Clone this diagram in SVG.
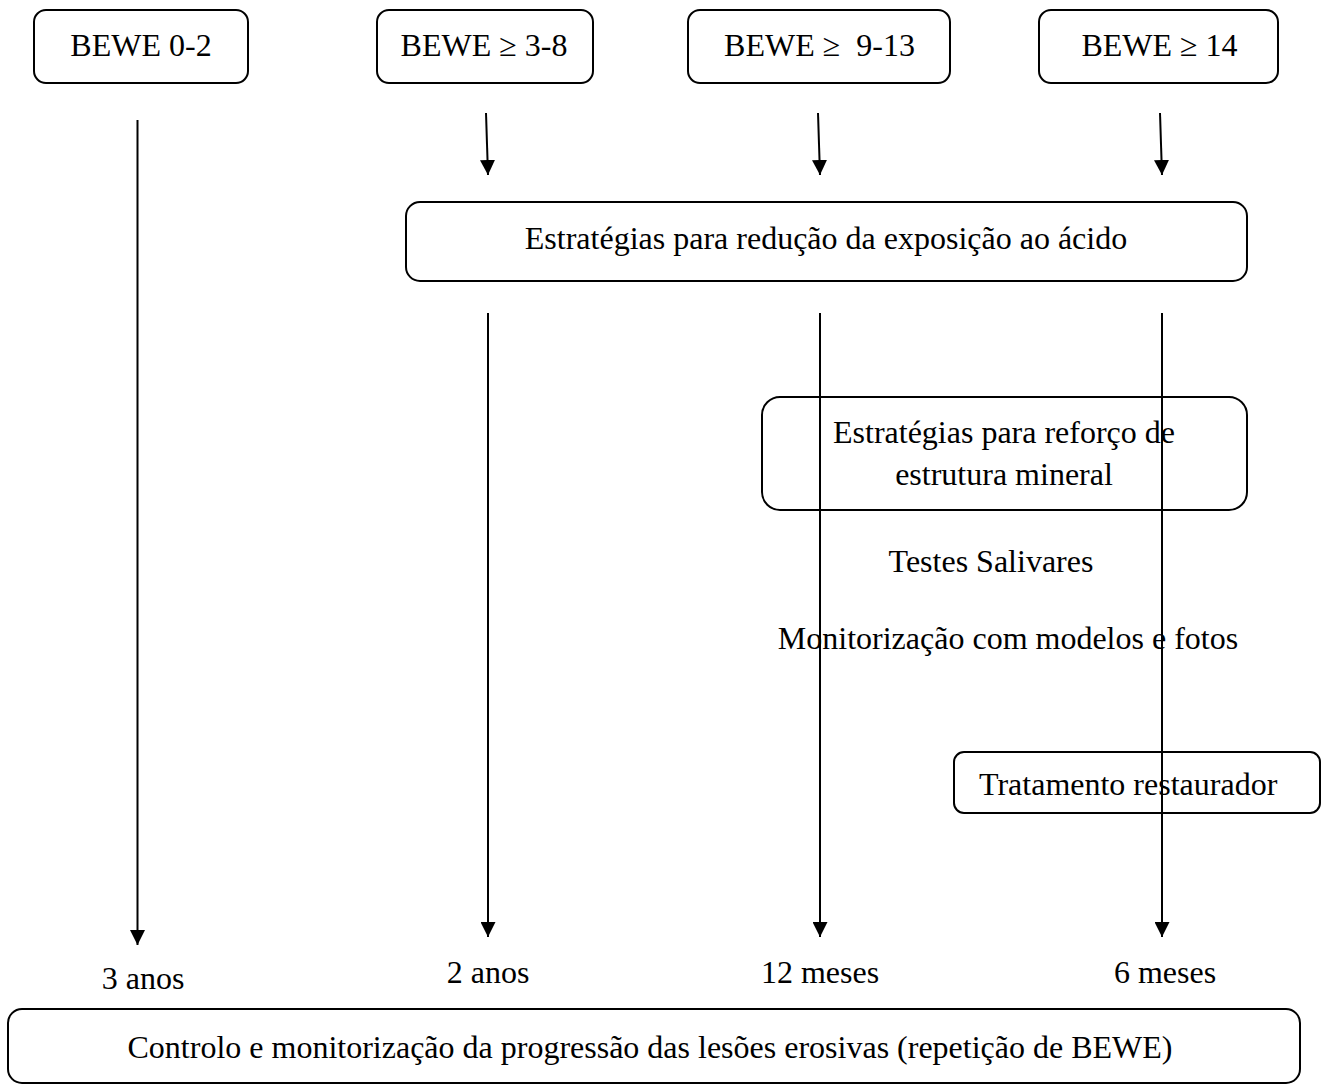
<svg xmlns="http://www.w3.org/2000/svg" width="1322" height="1086" viewBox="0 0 1322 1086">
<style>
.box{fill:none;stroke:#000;stroke-width:2}
.t{font-family:"Liberation Serif","Times New Roman",serif;font-size:32px;fill:#000}
.c{text-anchor:middle}
.ln{stroke:#000;stroke-width:2;fill:none}
</style>
<defs>
<marker id="ah" viewBox="0 0 10 10" refX="10" refY="5" markerWidth="15" markerHeight="15" markerUnits="userSpaceOnUse" orient="auto">
<path d="M0,0 L10,5 L0,10 Z" fill="#000"/>
</marker>
</defs>
<rect width="1322" height="1086" fill="#fff"/>
<g id="connectors">
<path class="ln" d="M137.5,120 L137.5,945" marker-end="url(#ah)"/>
<path class="ln" d="M486,113 L488,175" marker-end="url(#ah)"/>
<path class="ln" d="M818,113 L820,175" marker-end="url(#ah)"/>
<path class="ln" d="M1160,113 L1162,175" marker-end="url(#ah)"/>
<path class="ln" d="M488,313 L488,937" marker-end="url(#ah)"/>
<path class="ln" d="M820,313 L820,937" marker-end="url(#ah)"/>
<path class="ln" d="M1162,313 L1162,937" marker-end="url(#ah)"/>
</g>
<g id="bewe02"><rect class="box" x="34" y="10" width="214" height="73" rx="12"/><text class="t c" x="141" y="56">BEWE 0-2</text></g>
<g id="bewe38"><rect class="box" x="377" y="10" width="216" height="73" rx="12"/><text class="t c" x="484" y="56">BEWE ≥ 3-8</text></g>
<g id="bewe913"><rect class="box" x="688" y="10" width="262" height="73" rx="12"/><text class="t c" x="819.5" y="56" xml:space="preserve">BEWE ≥  9-13</text></g>
<g id="bewe14"><rect class="box" x="1039" y="10" width="239" height="73" rx="12"/><text class="t c" x="1159.5" y="56">BEWE ≥ 14</text></g>
<g id="reducao"><rect class="box" x="406" y="202" width="841" height="79" rx="14"/><text class="t c" x="826" y="249">Estratégias para redução da exposição ao ácido</text></g>
<g id="reforco"><rect class="box" x="762" y="397" width="485" height="113" rx="18"/><text class="t c" x="1004" y="443">Estratégias para reforço de</text><text class="t c" x="1004" y="485">estrutura mineral</text></g>
<g id="testes"><text class="t c" x="991" y="572">Testes Salivares</text></g>
<g id="monitorizacao"><text class="t c" x="1008" y="649">Monitorização com modelos e fotos</text></g>
<g id="tratamento"><rect class="box" x="954" y="752" width="366" height="61" rx="10"/><text class="t" x="979" y="795">Tratamento restaurador</text></g>
<g id="l3anos"><text class="t c" x="143" y="989">3 anos</text></g>
<g id="l2anos"><text class="t c" x="488" y="983">2 anos</text></g>
<g id="l12meses"><text class="t c" x="820" y="983">12 meses</text></g>
<g id="l6meses"><text class="t c" x="1165" y="983">6 meses</text></g>
<g id="controlo"><rect class="box" x="8" y="1009" width="1292" height="74" rx="14"/><text class="t c" x="650" y="1058">Controlo e monitorização da progressão das lesões erosivas (repetição de BEWE)</text></g>
</svg>
